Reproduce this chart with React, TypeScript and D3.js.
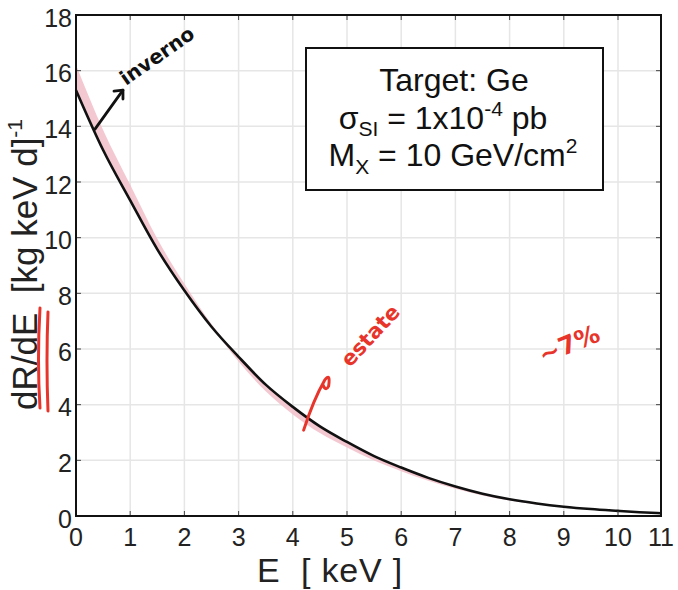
import React from "react";
import { scaleLinear, area, line, curveMonotoneX } from "d3";

// energy grid (keV) and the differential rate
const energy = [0, 0.5, 1, 1.5, 2, 2.5, 3, 3.5, 4, 4.5, 5, 5.5, 6, 6.5, 7, 7.5, 8, 8.5, 9, 9.5, 10, 10.5, 11];
const rate = [15.3, 13.15, 11.34, 9.58, 8.1, 6.8, 5.72, 4.72, 3.92, 3.22, 2.66, 2.15, 1.74, 1.37, 1.06, 0.8, 0.6, 0.45, 0.335, 0.25, 0.185, 0.137, 0.1];
// pink band (yearly modulation envelope)
const bandHigh = [16.2, 13.87, 11.9, 9.96, 8.34, 6.9, 5.72, 4.72, 3.92, 3.22, 2.66, 2.15, 1.74, 1.37, 1.06, 0.8, 0.6, 0.45, 0.335, 0.25, 0.185, 0.137, 0.1];
const bandLow = [15.3, 13.15, 11.34, 9.58, 8.1, 6.8, 5.55, 4.48, 3.65, 2.98, 2.46, 1.99, 1.61, 1.27, 0.98, 0.74, 0.555, 0.415, 0.31, 0.23, 0.17, 0.126, 0.092];

const xTicks = [0, 1, 2, 3, 4, 5, 6, 7, 8, 9, 10, 11];
const yTicks = [0, 2, 4, 6, 8, 10, 12, 14, 16, 18];

const W = 678;
const H = 590;
const FONT = "'Liberation Sans', Arial, sans-serif";
const HAND = "'DejaVu Sans', sans-serif";
const RED = "#e8352b";

export default function App() {
  // the last tick interval of the original axis is shorter, hence the polylinear scale
  const x = scaleLinear().domain([0, 10, 11]).range([76, 618, 661]);
  const y = scaleLinear().domain([0, 18]).range([516, 15]);

  const pts = energy.map((e, i) => ({ e, v: rate[i], lo: bandLow[i], hi: bandHigh[i] }));

  const bandPath = area<any>()
    .x(d => x(d.e))
    .y0(d => y(d.lo))
    .y1(d => y(d.hi))
    .curve(curveMonotoneX)(pts);

  const linePath = line<any>()
    .x(d => x(d.e))
    .y(d => y(d.v))
    .curve(curveMonotoneX)(pts);

  const [x0, x1] = [x(0), x(11)];
  const [y0, y1] = [y(0), y(18)];

  // annotation anchors
  const bx = x(0.35), by = y(13.9);
  const rx = x(4.2), ry = y(3.3);

  return (
    <svg width={W} height={H} style={{ position: "absolute", left: 0, top: 0, background: "#fff" }}>
      <rect width={W} height={H} fill="#fff" />

      {/* grid */}
      {xTicks.map(t => (
        <line key={"gx" + t} x1={x(t)} x2={x(t)} y1={y0} y2={y1} stroke="#e6e6e6" strokeWidth={1.5} />
      ))}
      {yTicks.map(t => (
        <line key={"gy" + t} x1={x0} x2={x1} y1={y(t)} y2={y(t)} stroke="#e6e6e6" strokeWidth={1.5} />
      ))}

      {/* band + curve */}
      <path d={bandPath || ""} fill="#f2c2cb" opacity={0.9} />
      <path d={linePath || ""} fill="none" stroke="#111" strokeWidth={2.6} />

      {/* inner ticks */}
      {xTicks.map(t => (
        <g key={"tx" + t} stroke="#444" strokeWidth={1}>
          <line x1={x(t)} x2={x(t)} y1={y0} y2={y0 - 5} />
          <line x1={x(t)} x2={x(t)} y1={y1} y2={y1 + 5} />
        </g>
      ))}
      {yTicks.map(t => (
        <g key={"ty" + t} stroke="#444" strokeWidth={1}>
          <line x1={x0} x2={x0 + 5} y1={y(t)} y2={y(t)} />
          <line x1={x1} x2={x1 - 5} y1={y(t)} y2={y(t)} />
        </g>
      ))}

      {/* frame */}
      <rect x={x0} y={y1} width={x1 - x0} height={y0 - y1} fill="none" stroke="#111" strokeWidth={2} />

      {/* tick labels */}
      {xTicks.map(t => (
        <text key={"lx" + t} x={x(t)} y={545.5} textAnchor="middle" fontFamily={FONT} fontSize={25} fill="#222">
          {t}
        </text>
      ))}
      {yTicks.map(t => (
        <text key={"ly" + t} x={72} y={y(t) + 11.5} textAnchor="end" fontFamily={FONT} fontSize={25} fill="#222">
          {t}
        </text>
      ))}

      {/* axis titles */}
      <text x={257} y={582} fontFamily={FONT} fontSize={34} letterSpacing={0.8} fill="#222" style={{ whiteSpace: "pre" }}>
        {"E  [ keV ]"}
      </text>
      <text transform="translate(37,410) rotate(-90)" fontFamily={FONT} fontSize={35} fill="#222" style={{ whiteSpace: "pre" }}>
        {"dR/dE  [kg keV d]"}
        <tspan fontSize={21} dy={-15}>-1</tspan>
      </text>

      {/* info box */}
      <rect x={306} y={48} width={297} height={142} fill="#fff" stroke="#111" strokeWidth={2} />
      <g fontFamily={FONT} fill="#111" textAnchor="middle">
        <text x={454} y={91} fontSize={32}>Target: Ge</text>
        <text x={443} y={129} fontSize={32}>
          σ<tspan fontSize={21} dy={7}>SI</tspan>
          <tspan dy={-7}> = 1x10</tspan>
          <tspan fontSize={21} dy={-13}>-4</tspan>
          <tspan dy={13}> pb</tspan>
        </text>
        <text x={453} y={166} fontSize={32}>
          M<tspan fontSize={21} dy={8}>X</tspan>
          <tspan dy={-8}> = 10 GeV/cm</tspan>
          <tspan fontSize={21} dy={-13}>2</tspan>
        </text>
      </g>

      {/* handwritten notes */}
      <g fill="none" stroke="#111" strokeWidth={2.8} strokeLinecap="round" strokeLinejoin="round">
        <path d={`M${bx},${by} L${bx + 28},${by - 39}`} />
        <path d={`M${bx + 19},${by - 38} L${bx + 28},${by - 39} L${bx + 28},${by - 30}`} />
      </g>
      <text transform="translate(126,86) rotate(-35)" fontFamily={HAND} fontSize={20} fontWeight="bold" fill="#111">
        inverno
      </text>

      <g fill="none" stroke={RED} strokeWidth={3} strokeLinecap="round" strokeLinejoin="round">
        <path d={`M${rx},${ry + 6} Q${rx + 10},${ry - 25} ${rx + 21},${ry - 44} Q${rx + 27},${ry - 52} ${rx + 25},${ry - 38} Q${rx + 22},${ry - 32} ${rx + 19},${ry - 40}`} />
        <path d="M40,308 Q37,360 40,408" />
        <path d="M48,312 Q46,360 48,411" />
      </g>
      <text transform="translate(350,368) rotate(-47)" fontFamily={HAND} fontSize={21} fontWeight="bold" fill={RED}>
        estate
      </text>
      <text transform="translate(543,364) rotate(-22)" fontFamily={HAND} fontSize={25} fontWeight="bold" fill={RED}>
        ~7%
      </text>
    </svg>
  );
}
